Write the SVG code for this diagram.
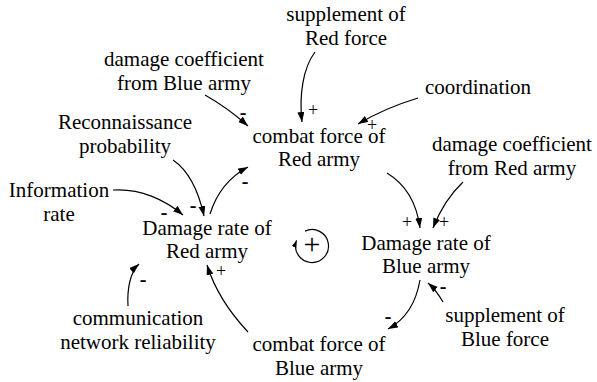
<svg xmlns="http://www.w3.org/2000/svg" width="597" height="382" viewBox="0 0 597 382">
<defs>
<marker id="ah" markerUnits="userSpaceOnUse" markerWidth="11" markerHeight="8" refX="10" refY="3.5" orient="auto">
<path d="M0,0 L10,3.5 L0,7 z" fill="#000"/>
</marker>
<marker id="ahs" markerUnits="userSpaceOnUse" markerWidth="8" markerHeight="6" refX="7" refY="2.5" orient="auto">
<path d="M0,0 L7,2.5 L0,5 z" fill="#000"/>
</marker>
</defs>
<rect width="597" height="382" fill="#fff"/>
<g font-family="'Liberation Serif', serif" font-size="21" fill="#000" text-anchor="middle">
<g id="supplementRed"><text x="346" y="21">supplement of</text><text x="346" y="45">Red force</text></g>
<g id="dmgCoefBlue"><text x="184" y="66">damage coefficient</text><text x="184" y="90">from Blue army</text></g>
<g id="coordination"><text x="478" y="94">coordination</text></g>
<g id="recon"><text x="125" y="129">Reconnaissance</text><text x="125" y="153">probability</text></g>
<g id="combatRed"><text x="319" y="143">combat force of</text><text x="319" y="166">Red army</text></g>
<g id="dmgCoefRed"><text x="512" y="151">damage coefficient</text><text x="512" y="175">from Red army</text></g>
<g id="infoRate"><text x="59" y="197">Information</text><text x="59" y="221">rate</text></g>
<g id="dmgRateRed"><text x="207" y="235">Damage rate of</text><text x="207" y="258">Red army</text></g>
<g id="dmgRateBlue"><text x="426" y="250">Damage rate of</text><text x="426" y="273">Blue army</text></g>
<g id="commNet"><text x="138" y="325">communication</text><text x="138" y="349">network reliability</text></g>
<g id="supplementBlue"><text x="505" y="322">supplement of</text><text x="505" y="346">Blue force</text></g>
<g id="combatBlue"><text x="319" y="351">combat force of</text><text x="319" y="375">Blue army</text></g>
</g>
<g id="connectors" fill="none" stroke="#000" stroke-width="1.2" marker-end="url(#ah)">
<path d="M205,95 Q228,108 248,126"/>
<path d="M315,52 C303,68 299,95 302,122"/>
<path d="M418,98 Q385,108 358,124"/>
<path d="M387,173 Q415,190 420,228"/>
<path d="M463,182 Q444,200 433,228"/>
<path d="M420,280 Q414,315 388,329"/>
<path d="M443,302 Q436,290 428,283"/>
<path d="M248,332 Q218,300 207,265"/>
<path d="M128,306 C127,290 130,272 139,264"/>
<path d="M113,190 C140,188 165,200 183,215"/>
<path d="M173,160 Q195,175 204,216"/>
<path d="M210,214 Q220,182 248,167"/>
</g>
<g id="signs" font-family="'Liberation Serif', serif" fill="#000" text-anchor="middle">
<g font-size="20" font-weight="bold">
<text x="243" y="119">-</text>
<text x="245" y="188">-</text>
<text x="193" y="212">-</text>
<text x="164" y="219">-</text>
<text x="143" y="286">-</text>
<text x="443" y="293">-</text>
<text x="388" y="323">-</text>
</g>
<g font-size="18">
<text x="313" y="116">+</text>
<text x="372" y="131">+</text>
<text x="221" y="277">+</text>
<text x="407" y="228">+</text>
<text x="444" y="228">+</text>
</g>
</g>
<g id="loop">
<path fill="none" stroke="#000" stroke-width="1.2" marker-end="url(#ahs)" d="M305.0,231.1 A16.5,16.5 0 1 1 296.5,240.4"/>
<text font-family="'Liberation Serif', serif" font-size="30" text-anchor="middle" x="312" y="254">+</text>
</g>
</svg>
